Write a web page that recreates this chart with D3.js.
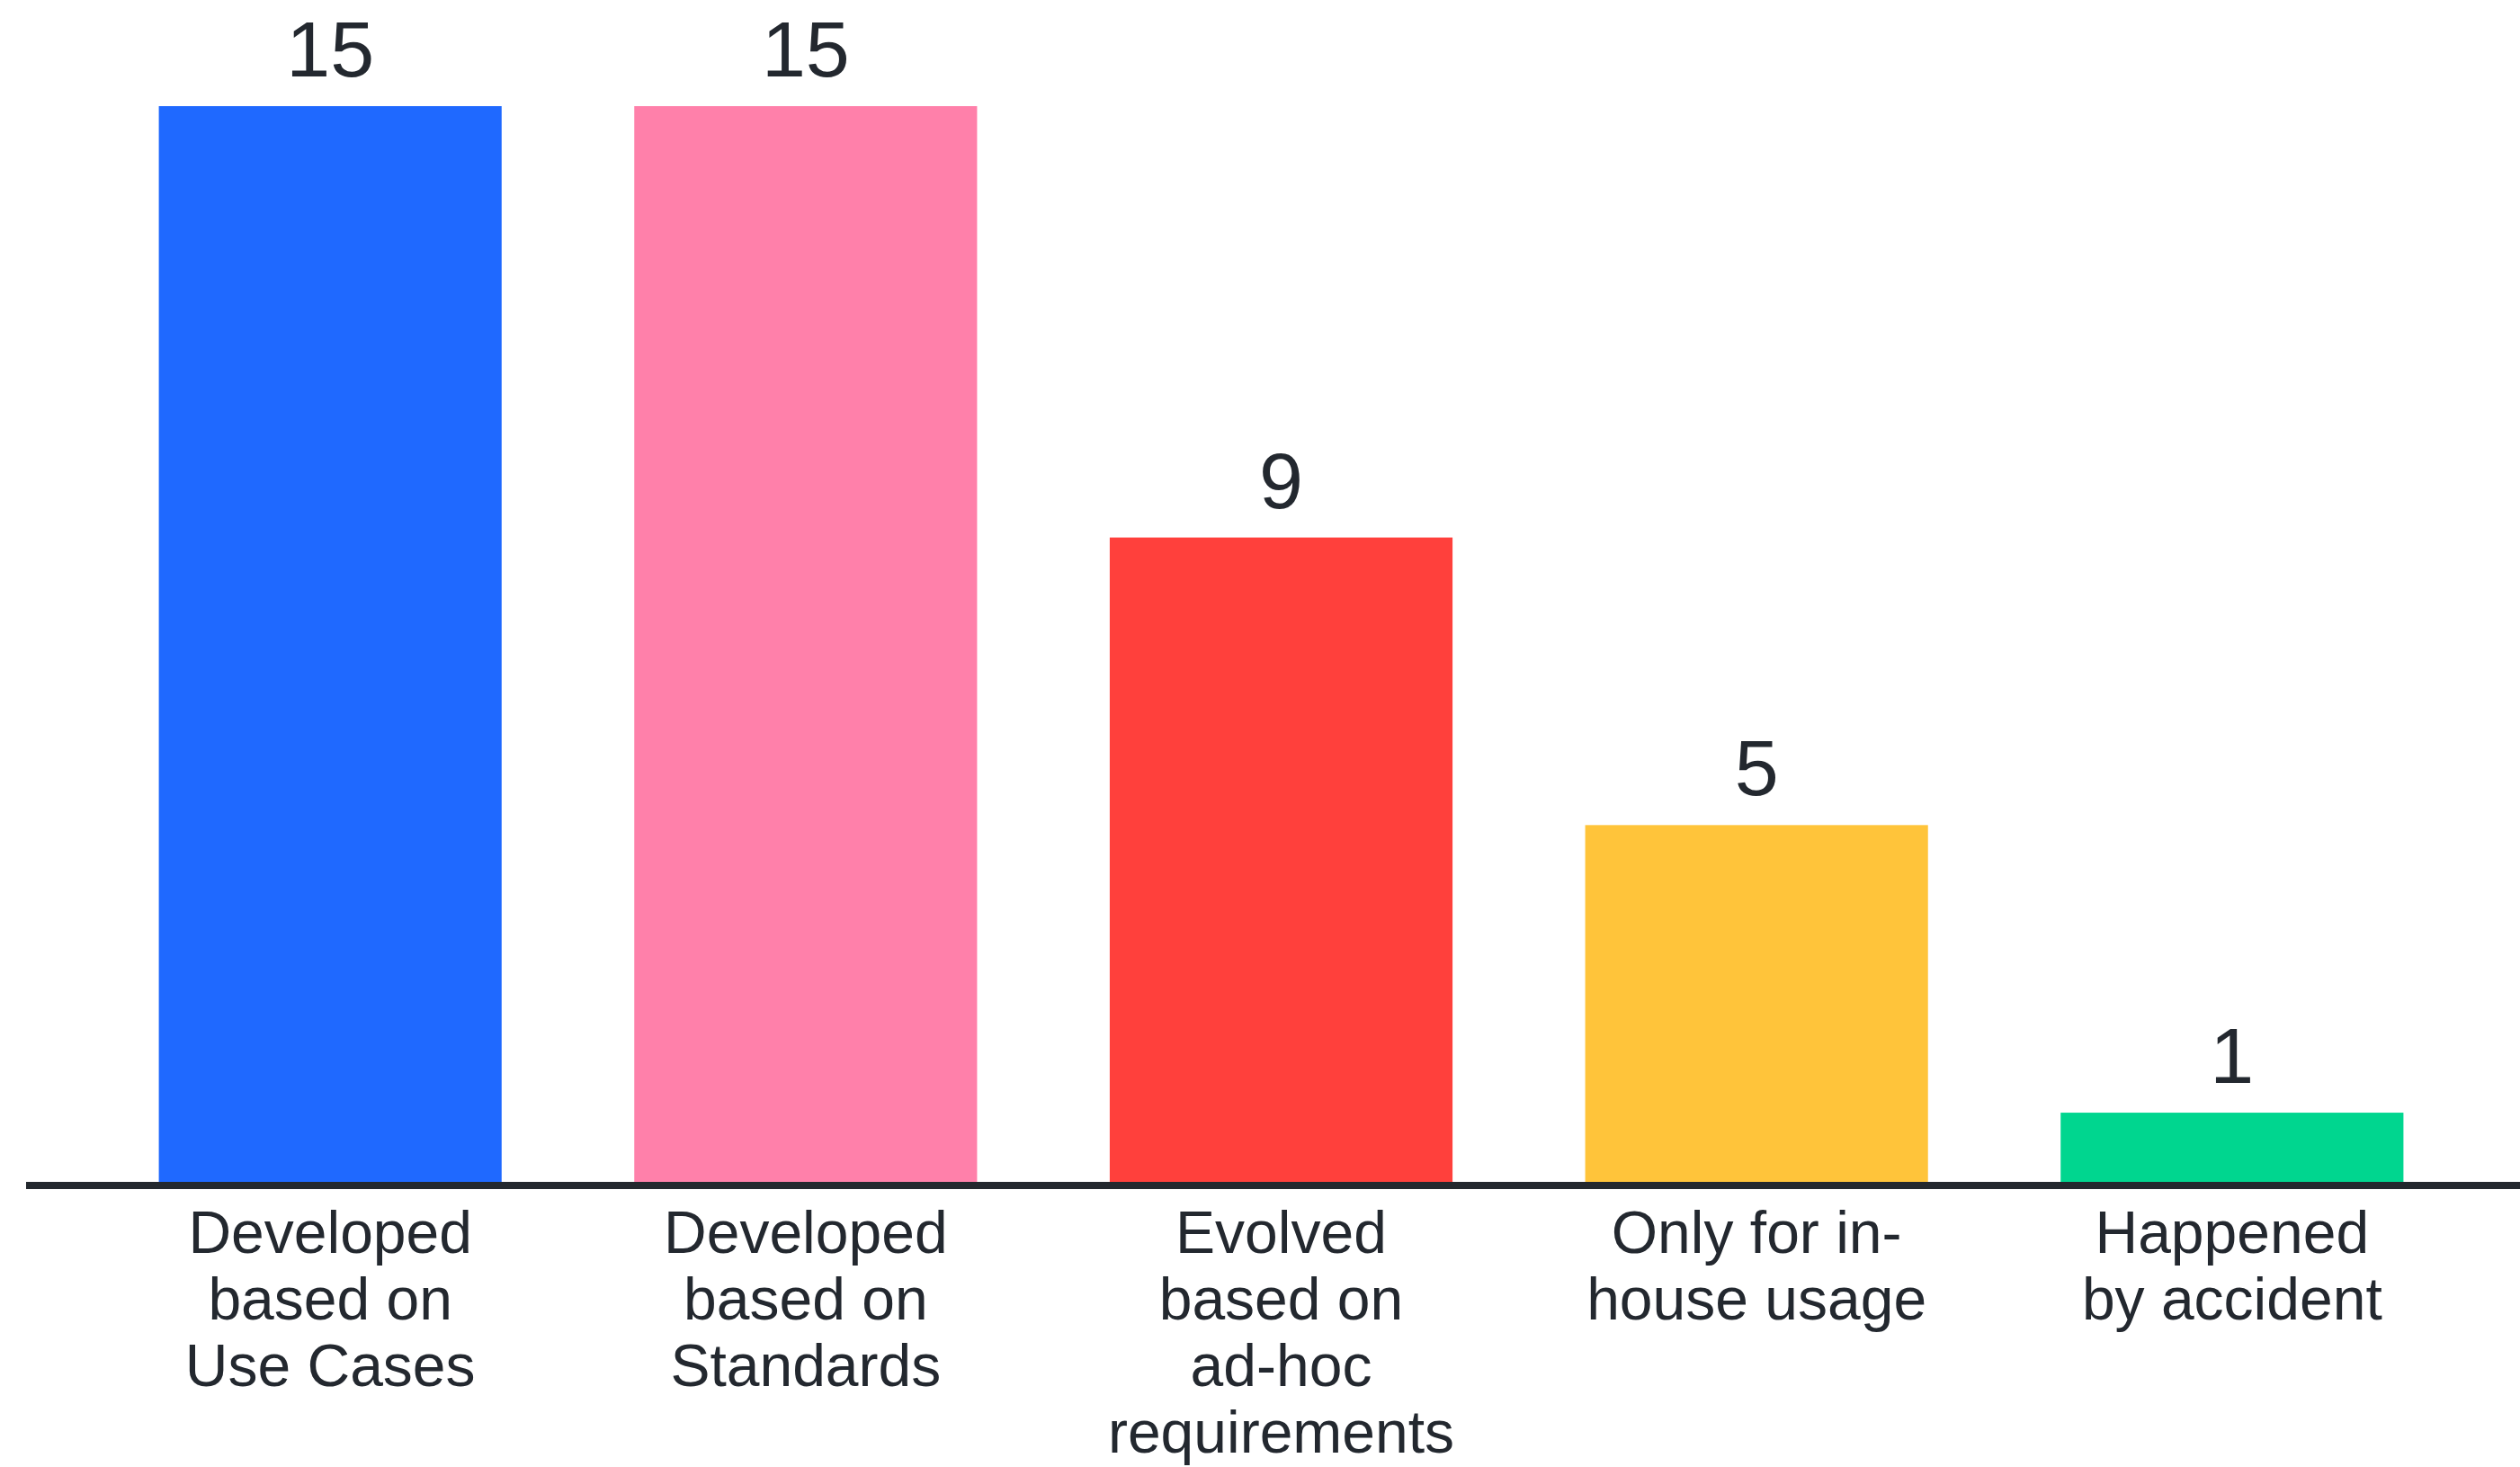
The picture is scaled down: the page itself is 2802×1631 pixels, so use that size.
<!DOCTYPE html>
<html>
<head>
<meta charset="utf-8">
<script src="https://cdn.jsdelivr.net/npm/d3@7/dist/d3.min.js"></script>
<style>
  html, body { margin: 0; padding: 0; background: #ffffff; }
  svg { display: block; }
</style>
</head>
<body>
<svg id="chart" width="2802" height="1631"></svg>
<script>
const categories = [
  "Developed\nbased on\nUse Cases",
  "Developed\nbased on\nStandards",
  "Evolved\nbased on\nad-hoc\nrequirements",
  "Only for in-\nhouse usage",
  "Happened\nby accident"
];
const values = [15, 15, 9, 5, 1];
const colors = ["#1f69ff", "#ff80aa", "#ff403c", "#ffc43a", "#00d68f"];

const W = 2802, H = 1631;
const baseY = 1317;
const textColor = "#23282f";
const font = "'Liberation Sans', Arial, sans-serif";

const svg = d3.select("#chart");

const x = d3.scaleBand()
  .domain(categories)
  .range([18, 2831])
  .paddingInner(0.279)
  .paddingOuter(0.3);

const y = d3.scaleLinear()
  .domain([0, 15])
  .range([baseY, 118]);

const data = categories.map((c, i) => ({ c, v: values[i], col: colors[i] }));

svg.selectAll("rect.bar")
  .data(data)
  .join("rect")
  .attr("class", "bar")
  .attr("x", d => x(d.c))
  .attr("width", x.bandwidth())
  .attr("y", d => y(d.v))
  .attr("height", d => y(0) - y(d.v))
  .attr("fill", d => d.col);

svg.selectAll("text.val")
  .data(data)
  .join("text")
  .attr("class", "val")
  .attr("x", d => x(d.c) + x.bandwidth() / 2)
  .attr("y", d => y(d.v) - 33)
  .attr("text-anchor", "middle")
  .attr("font-family", font)
  .attr("font-size", 88)
  .attr("fill", textColor)
  .text(d => d.v);

// x axis line
svg.append("line")
  .attr("x1", 29).attr("x2", W)
  .attr("y1", baseY + 1).attr("y2", baseY + 1)
  .attr("stroke", "#23282e")
  .attr("stroke-width", 8);

// category labels
const lab = svg.selectAll("text.cat")
  .data(data)
  .join("text")
  .attr("class", "cat")
  .attr("text-anchor", "middle")
  .attr("font-family", font)
  .attr("font-size", 66)
  .attr("fill", textColor);

lab.each(function(d) {
  const t = d3.select(this);
  const cx = x(d.c) + x.bandwidth() / 2;
  d.c.split("\n").forEach((line, k) => {
    t.append("tspan")
      .attr("x", cx)
      .attr("y", 1393 + k * 74)
      .text(line);
  });
});
</script>
</body>
</html>
